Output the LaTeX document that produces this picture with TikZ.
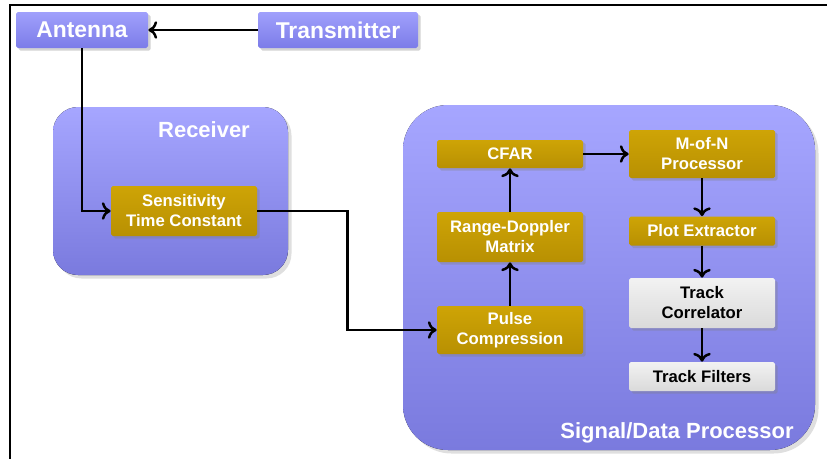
\documentclass[tikz,border=0pt]{standalone}
\usepackage{fontspec}
\setmainfont{Liberation Sans}
\usetikzlibrary{arrows.meta,shadows}

\definecolor{panelTop}{RGB}{166,166,255}
\definecolor{panelBot}{RGB}{122,122,222}
\definecolor{blueTop}{RGB}{160,160,252}
\definecolor{blueBot}{RGB}{124,124,232}
\definecolor{goldTop}{RGB}{206,164,6}
\definecolor{goldBot}{RGB}{184,144,2}
\definecolor{greyTop}{RGB}{242,242,242}
\definecolor{greyBot}{RGB}{218,218,218}

\tikzset{
    panel/.style={rounded corners=0.5cm, top color=panelTop, bottom color=panelBot,
        draw=none, drop shadow={shadow xshift=2pt, shadow yshift=-2pt, opacity=0.25}},
    bluebox/.style={rectangle, rounded corners=1pt, top color=blueTop, bottom color=blueBot,
        text=white, font=\fontsize{13}{15}\selectfont\bfseries,
        drop shadow={shadow xshift=1.5pt, shadow yshift=-1.5pt, opacity=0.35}},
    goldbox/.style={rectangle, rounded corners=1pt, top color=goldTop, bottom color=goldBot,
        text=white, align=center, inner sep=0pt,
        font=\fontsize{9.5}{11.4}\selectfont\bfseries,
        drop shadow={shadow xshift=1.5pt, shadow yshift=-1.5pt, opacity=0.35}},
    greybox/.style={goldbox, top color=greyTop, bottom color=greyBot, text=black},
    paneltitle/.style={text=white, font=\fontsize{12.5}{15}\selectfont\bfseries},
    link/.style={line width=1.4pt, -{To[length=5pt,width=10pt]}},
}

\begin{document}
\begin{tikzpicture}
\useasboundingbox (0,0) rectangle (16.54,-9.18);

% frame
\draw[line width=1.6pt] (0.2,-9.18) -- (0.2,-0.1) -- (16.54,-0.1);

% panels
\fill[panel] (1.06,-2.14) rectangle (5.76,-5.50);
\fill[panel, rounded corners=0.9cm] (8.06,-2.10) rectangle (16.30,-9.00);
\node[paneltitle] (rxlabel) at (4.08,-2.60) {Receiver};
\node[paneltitle] (sdplabel) at (13.54,-8.66) {Signal/Data Processor};

% top row
\node[bluebox, minimum width=2.64cm, minimum height=0.72cm] (ant) at (1.64,-0.60) {Antenna};
\node[bluebox, minimum width=3.20cm, minimum height=0.72cm] (tx) at (6.76,-0.60) {Transmitter};

% receiver
\node[goldbox, minimum width=2.92cm, minimum height=1.00cm] (stc) at (3.68,-4.22) {Sensitivity\\Time Constant};

% signal/data processor
\node[goldbox, minimum width=2.92cm, minimum height=0.56cm] (cfar) at (10.20,-3.08) {CFAR};
\node[goldbox, minimum width=2.92cm, minimum height=0.96cm] (mofn) at (14.04,-3.08) {M-of-N\\Processor};
\node[goldbox, minimum width=2.92cm, minimum height=1.00cm] (rdm) at (10.20,-4.74) {Range-Doppler\\Matrix};
\node[goldbox, minimum width=2.92cm, minimum height=0.58cm] (plot) at (14.04,-4.62) {Plot Extractor};
\node[greybox, minimum width=2.92cm, minimum height=1.00cm] (corr) at (14.04,-6.06) {Track\\Correlator};
\node[greybox, minimum width=2.92cm, minimum height=0.58cm] (filt) at (14.04,-7.53) {Track Filters};
\node[goldbox, minimum width=2.92cm, minimum height=0.96cm] (pulse) at (10.20,-6.60) {Pulse\\Compression};

% connectors
\draw[link] (tx) -- (ant);
\draw[link] (ant.south) |- (stc.west);
\draw[link] (stc.east) -- ++(1.80,0) |- (pulse.west);
\draw[link] (pulse) -- (rdm);
\draw[link] (rdm) -- (cfar);
\draw[link] (cfar) -- (mofn);
\draw[link] (mofn) -- (plot);
\draw[link] (plot) -- (corr);
\draw[link] (corr) -- (filt);
\end{tikzpicture}
\end{document}
